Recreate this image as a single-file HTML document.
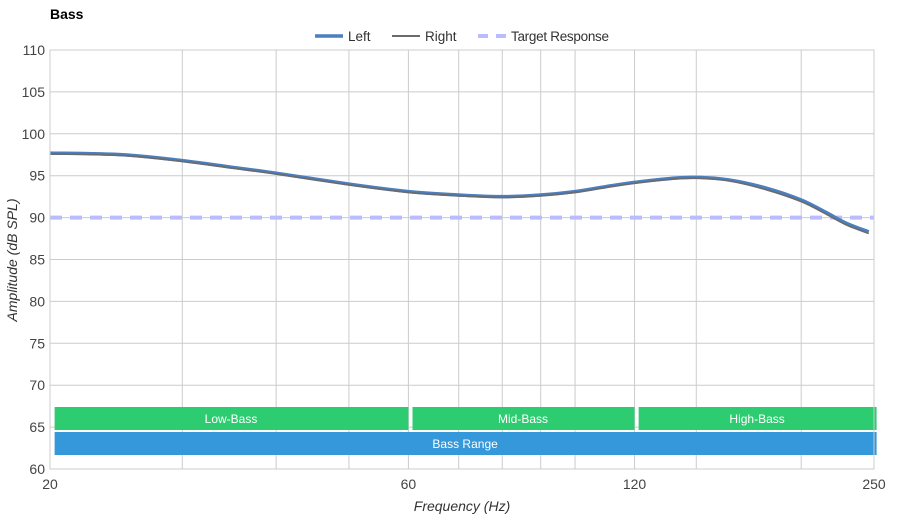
<!DOCTYPE html>
<html><head><meta charset="utf-8"><style>
body{margin:0;background:#fff;font-family:"Liberation Sans",sans-serif}
svg text{font-family:"Liberation Sans",sans-serif}
</style></head><body>
<svg id="c" width="900" height="520">
<text x="50" y="19" font-size="14" font-weight="bold" fill="#000">Bass</text>
</svg>
<script>
const freqs=[20,25,30,35,40,50,60,70,80,90,100,110,120,135,145,160,180,200,216,230,246];
const leftVals=[97.7,97.5,96.8,96.0,95.3,94.0,93.1,92.7,92.5,92.7,93.1,93.7,94.2,94.7,94.8,94.5,93.5,92.1,90.6,89.3,88.3];
const rightVals=[97.6,97.4,96.7,95.9,95.2,93.9,93.0,92.6,92.4,92.6,93.0,93.6,94.1,94.6,94.7,94.4,93.3,91.9,90.4,89.1,88.1];
const targetVal=90;
const yTicks=[60,65,70,75,80,85,90,95,100,105,110];
const xGrid=[20,30,40,50,60,70,80,90,100,120,145,200,250];
const xLabels=[20,60,120,250];
const bands=[{n:"Low-Bass",a:20.1,b:60,row:0},{n:"Mid-Bass",a:60.2,b:120,row:0},{n:"High-Bass",a:120.4,b:252,row:0},{n:"Bass Range",a:20.1,b:252,row:1}];
const NS="http://www.w3.org/2000/svg",svg=document.getElementById('c');
const X0=50,X1=874,Y0=469,Y1=50;
const xs=f=>X0+(X1-X0)*Math.log(f/20)/Math.log(250/20);
const ys=v=>Y0-(Y0-Y1)*(v-60)/50;
function mk(t,a,p){const e=document.createElementNS(NS,t);for(const k in a)e.setAttribute(k,a[k]);(p||svg).appendChild(e);return e;}
yTicks.forEach(v=>{
 const l=mk('line',{x1:X0,x2:X1,y1:ys(v),y2:ys(v),stroke:'#ccc'});
 
 
 const t=mk('text',{x:45,y:ys(v)+5,'text-anchor':'end','font-size':14,fill:'#444'});t.textContent=v;
 
 
});
xGrid.forEach(f=>{
 const l=mk('line',{x1:xs(f),x2:xs(f),y1:Y1,y2:Y0,stroke:'#ccc'});
 
 
});
xLabels.forEach(f=>{
 const t=mk('text',{x:xs(f),y:489,'text-anchor':'middle','font-size':14,fill:'#444'});t.textContent=f;
 
 
});
bands.forEach(b=>{
 const y=b.row?432:407;
 const r=mk('rect',{x:xs(b.a)+3,y:y,width:xs(b.b)-xs(b.a)-3,height:23,fill:b.row?'#3498db':'#2ecc71'});
 
 
 const t=mk('text',{x:(xs(b.a)+xs(b.b))/2+1,y:y+16,'text-anchor':'middle','font-size':12,fill:'#fff'});t.textContent=b.n;
 
 
});
const tl=mk('line',{x1:X0,x2:X1,y1:ys(targetVal),y2:ys(targetVal),stroke:'#bbbbff','stroke-width':4,'stroke-dasharray':'12,8'});


function pathOf(vals){
 const p=freqs.map((f,i)=>[xs(f),ys(vals[i])]);
 let d='M'+p[0][0]+','+p[0][1];
 for(let i=0;i<p.length-1;i++){
  const a=p[Math.max(i-1,0)],b=p[i],c=p[i+1],e=p[Math.min(i+2,p.length-1)];
  d+=` C${b[0]+(c[0]-a[0])/6},${b[1]+(c[1]-a[1])/6} ${c[0]-(e[0]-b[0])/6},${c[1]-(e[1]-b[1])/6} ${c[0]},${c[1]}`;
 }
 return d;
}
const lp=mk('path',{d:pathOf(leftVals),fill:'none',stroke:'#4a7fc1','stroke-width':3.5});


const rp=mk('path',{d:pathOf(rightVals),fill:'none',stroke:'#6b6b6b','stroke-width':1.6});


mk('rect',{x:X0,y:Y1,width:X1-X0,height:Y0-Y1,fill:'none',stroke:'#ccc'});
const leg=[["Left",315,'#4a7fc1',3.5,''],["Right",392,'#6b6b6b',2,''],["Target Response",478,'#bbbbff',4,'10,8']];
leg.forEach(g=>{
 const l=mk('line',{x1:g[1],x2:g[1]+28,y1:36,y2:36,stroke:g[2],'stroke-width':g[3],'stroke-dasharray':g[4]});
 
 
 const t=mk('text',{x:g[1]+33,y:41,'font-size':13.5,fill:'#333',textLength:g[0]==="Target Response"?98:null});t.textContent=g[0];
 if(g[0]!=="Target Response")t.removeAttribute('textLength');
 
 
});
const xt=mk('text',{x:462,y:511,'text-anchor':'middle','font-size':14,'font-style':'italic',fill:'#333'});xt.textContent='Frequency (Hz)';


const yt=mk('text',{x:0,y:0,'text-anchor':'middle','font-size':14,'font-style':'italic',fill:'#333',transform:'translate(17,260) rotate(-90)'});yt.textContent='Amplitude (dB SPL)';


</script>
</body></html>
